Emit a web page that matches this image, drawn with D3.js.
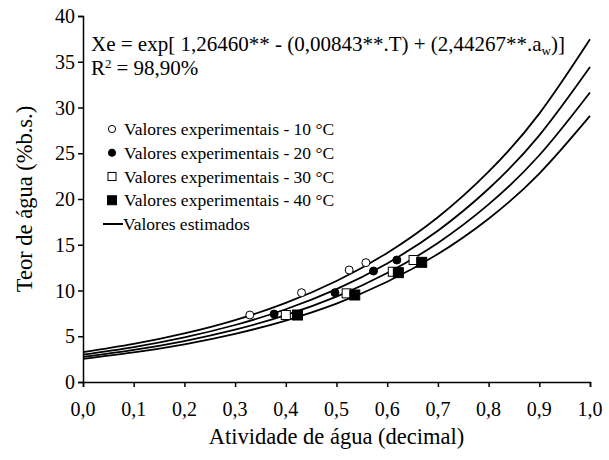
<!DOCTYPE html>
<html>
<head>
<meta charset="utf-8">
<script src="https://cdn.jsdelivr.net/npm/d3@7"></script>
</head>
<body style="margin:0">
<script>
// water activity grid for the estimated curves
var awGrid = [0, 0.1, 0.2, 0.3, 0.4, 0.5, 0.6, 0.7, 0.8, 0.9, 1.0];
// estimated curves at each awGrid point
var est10 = [3.26, 4.16, 5.31, 6.77, 8.65, 11.04, 14.10, 18.00, 22.98, 29.33, 37.45];
var est20 = [2.99, 3.82, 4.88, 6.23, 7.95, 10.15, 12.96, 16.54, 21.12, 26.96, 34.42];
var est30 = [2.75, 3.51, 4.48, 5.72, 7.31, 9.33, 11.91, 15.20, 19.41, 24.78, 31.64];
var est40 = [2.53, 3.23, 4.12, 5.26, 6.72, 8.57, 10.95, 13.98, 17.84, 22.78, 29.08];

// experimental points
var aw10 = [0.329, 0.431, 0.525, 0.558], x10 = [7.32, 9.76, 12.24, 13.04];
var aw20 = [0.377, 0.497, 0.573, 0.619], x20 = [7.43, 9.76, 12.13, 13.33];
var aw30 = [0.400, 0.520, 0.611, 0.652], x30 = [7.32, 9.69, 12.05, 13.33];
var aw40 = [0.423, 0.536, 0.622, 0.668], x40 = [7.32, 9.51, 11.95, 13.08];

var xTicks = [0, 0.1, 0.2, 0.3, 0.4, 0.5, 0.6, 0.7, 0.8, 0.9, 1.0];
var yTicks = [0, 5, 10, 15, 20, 25, 30, 35, 40];

var legendLabels = [
  "Valores experimentais - 10 °C",
  "Valores experimentais - 20 °C",
  "Valores experimentais - 30 °C",
  "Valores experimentais - 40 °C",
  "Valores estimados"
];

var W = 609, H = 460;
var margin = {top: 16, right: 19, bottom: 78, left: 83};

var svg = d3.select("body").append("svg")
  .attr("width", W).attr("height", H);

var x = d3.scaleLinear().domain([0, 1]).range([margin.left, W - margin.right]);
var y = d3.scaleLinear().domain([0, 40]).range([H - margin.bottom, margin.top]);

var fmt = function(d){ return d3.format(".1f")(d).replace(".", ","); };

// plain text straight on the svg, serif
function T(px, py, size, anchor){
  return svg.append("text")
    .attr("x", px).attr("y", py)
    .attr("text-anchor", anchor || "start")
    .style("font-family", "'Liberation Serif'")
    .style("font-size", size + "px");
}

// axes: lines and ticks from d3, labels drawn as plain texts at the scale positions
var xAxisG = svg.append("g")
  .attr("transform", "translate(0," + y(0) + ")")
  .call(d3.axisBottom(x).tickValues(xTicks).tickSizeOuter(0).tickSize(5).tickFormat(""));

var yAxisG = svg.append("g")
  .attr("transform", "translate(" + x(0) + ",0)")
  .call(d3.axisLeft(y).tickValues(yTicks).tickSizeOuter(0).tickSize(5).tickFormat(""));

[xAxisG, yAxisG].forEach(function(g){
  g.selectAll("path, line").attr("stroke", "#000").attr("stroke-width", 1.5);
});

xTicks.forEach(function(d){ T(x(d), 416, 20, "middle").text(fmt(d)); });
yTicks.forEach(function(d){ T(x(0) - 8, y(d) + 7, 20, "end").text(d); });

// curves
var line = d3.line()
  .x(function(d, i){ return x(awGrid[i]); })
  .y(function(d){ return y(d); })
  .curve(d3.curveNatural);

[est10, est20, est30, est40].forEach(function(s){
  svg.append("path")
    .attr("d", line(s))
    .attr("fill", "none")
    .attr("stroke", "#000")
    .attr("stroke-width", 1.8);
});

// markers
function drawMarker(g, type, cx, cy, sc){
  sc = sc || 1;
  if (type == 0 || type == 1) {
    g.append("circle").attr("cx", cx).attr("cy", cy).attr("r", 4 * sc)
      .attr("fill", type == 1 ? "#000" : "#fff").attr("stroke", "#000").attr("stroke-width", 1);
  } else {
    var s = (type == 3 ? 10 : 9) * sc;
    g.append("rect").attr("x", cx - s / 2).attr("y", cy - s / 2).attr("width", s).attr("height", s)
      .attr("fill", type == 3 ? "#000" : "#fff").attr("stroke", "#000").attr("stroke-width", 1);
  }
}

var series = [[aw10, x10], [aw20, x20], [aw30, x30], [aw40, x40]];
var pts = svg.append("g");
series.forEach(function(s, k){
  s[0].forEach(function(a, i){
    drawMarker(pts, k, x(a), y(s[1][i]));
  });
});

// legend
var lg = svg.append("g");
legendLabels.forEach(function(t, i){
  var cy = 129 + i * 23.75;
  if (i < 4) {
    drawMarker(lg, i, 112, cy, 0.9);
  } else {
    lg.append("line").attr("x1", 103).attr("x2", 123).attr("y1", cy).attr("y2", cy)
      .attr("stroke", "#000").attr("stroke-width", 2);
  }
  T(i < 4 ? 124 : 123, cy + 6, 17.5).text(t);
});

// equation, subscript and superscript as separate texts
var eq1 = T(91, 51, 21).text("Xe = exp[ 1,26460** - (0,00843**.T) + (2,44267**.a");
var w1 = eq1.node().getComputedTextLength();
var eq2 = T(91 + w1, 55, 13).text("w");
var w2 = eq2.node().getComputedTextLength();
T(91 + w1 + w2, 51, 21).text(")]");

var r1 = T(91, 75, 21).text("R");
var wr = r1.node().getComputedTextLength();
var r2 = T(91 + wr, 68, 13).text("2");
var wr2 = r2.node().getComputedTextLength();
T(91 + wr + wr2 + 5, 75, 21).text("= 98,90%");

// axis titles
T((x(0) + x(1)) / 2, 444, 22.5, "middle").text("Atividade de água (decimal)");

T(0, 0, 22.5, "middle")
  .attr("transform", "translate(32," + y(20) + ") rotate(-90)")
  .text("Teor de água (%b.s.)");
</script>
</body>
</html>
